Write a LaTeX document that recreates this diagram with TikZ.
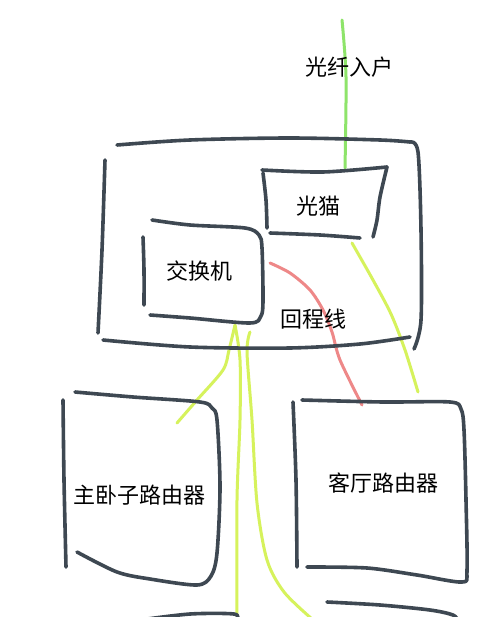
\documentclass[tikz,border=0pt]{standalone}
\usepackage{fontspec}
\newfontfamily\cjk{Noto Sans CJK SC}
\definecolor{ink}{HTML}{3E4852}
\definecolor{lime}{HTML}{D6F25C}
\definecolor{fiber}{HTML}{8EE46A}
\definecolor{backhaul}{HTML}{EE8888}
\tikzset{
  pen/.style={draw=ink, line width=3.6pt, line cap=round, line join=round},
  limewire/.style={draw=lime, line width=3pt, line cap=round},
  fiberwire/.style={draw=fiber, line width=3pt, line cap=round},
  redwire/.style={draw=backhaul, line width=3pt, line cap=round},
  lbl/.style={font=\cjk\fontsize{22}{26}\selectfont, text=black, inner sep=0pt}
}
\begin{document}
\begin{tikzpicture}[x=1pt,y=-1pt]
\useasboundingbox (0,0) rectangle (500,617);
\fill[white] (0,0) rectangle (500,617);

% wires (drawn first, under text)
\coordinate (fibertop) at (342,20);
\coordinate (onttop) at (345,168);
\draw[fiberwire] plot[smooth] coordinates {(342,20) (346,77) (345,168)};

\coordinate (ontout) at (352,243);
\coordinate (livingin) at (418,392);
\draw[limewire] plot[smooth] coordinates {(352,243) (373,280) (391,314) (405,350) (418,392)};

\coordinate (swred) at (270,263);
\coordinate (livingred) at (362,405);
\draw[redwire] plot[smooth] coordinates {(270,263) (290,273) (310,290) (323,310) (332,332) (340,360) (362,405)};

\coordinate (swA) at (235,325);
\draw[limewire] plot[smooth] coordinates {(235,325) (229,350) (223,370) (197,400) (177,423)};
\draw[limewire] plot[smooth] coordinates {(235,325) (240,360) (240,420) (237,500) (237,616)};
\draw[limewire] plot[smooth] coordinates {(250,332) (247,352) (252,420) (257,503) (267,560) (284,592) (312,619)};

% outer box (house)
\draw[pen] plot[smooth] coordinates {(117,145) (190,140) (290,138) (380,140) (410,142)};
\draw[pen] plot[smooth] coordinates {(410,142) (418,152) (421,230) (421,320) (414,349)};
\draw[pen] plot[smooth] coordinates {(105,160) (102,250) (98,333)};
\draw[pen] plot[smooth] coordinates {(103,340) (190,347) (290,348) (360,344) (410,337)};

% ONT box
\draw[pen] plot[smooth] coordinates {(262,170) (323,172) (387,167)};
\draw[pen] plot[smooth] coordinates {(387,167) (380,197) (377,220) (373,237)};
\draw[pen] plot[smooth] coordinates {(263,173) (266,200) (267,228)};
\draw[pen] plot[smooth] coordinates {(270,233) (320,235) (360,238)};

% switch box
\draw[pen] plot[smooth, tension=0.5] coordinates {(152,220) (190,225) (245,228) (259,235) (262,248) (263,300) (261,316) (250,323) (190,318) (150,315)};
\draw[pen] plot[smooth] coordinates {(143,237) (144,270) (144,305)};

% master bedroom router box
\draw[pen] plot[smooth, tension=0.5] coordinates {(75,392) (133,397) (200,402) (212,408) (217,420) (220,487) (217,553) (211,576) (197,585) (150,579) (117,572) (77,552)};
\draw[pen] plot[smooth] coordinates {(63,400) (64,480) (66,567)};

% living room router box
\draw[pen] plot[smooth, tension=0.5] coordinates {(302,400) (383,402) (450,402) (461,409) (464,430) (466,500) (467,570) (462,582) (417,575) (367,568) (307,567)};
\draw[pen] plot[smooth] coordinates {(293,402) (296,480) (297,567)};

% partial boxes at the bottom
\draw[pen] plot[smooth] coordinates {(140,620) (190,614) (234,614) (237,620)};
\draw[pen] plot[smooth] coordinates {(327,602) (380,605) (430,610) (453,615) (458,621)};

% labels
\node[lbl] (fiber) at (349,67) {光纤入户};
\node[lbl] (ont) at (318,206) {光猫};
\node[lbl] (switch) at (199,271) {交换机};
\node[lbl] (backhaul) at (313,319) {回程线};
\node[lbl] (master) at (139,495) {主卧子路由器};
\node[lbl] (living) at (383,483) {客厅路由器};
\end{tikzpicture}
\end{document}
